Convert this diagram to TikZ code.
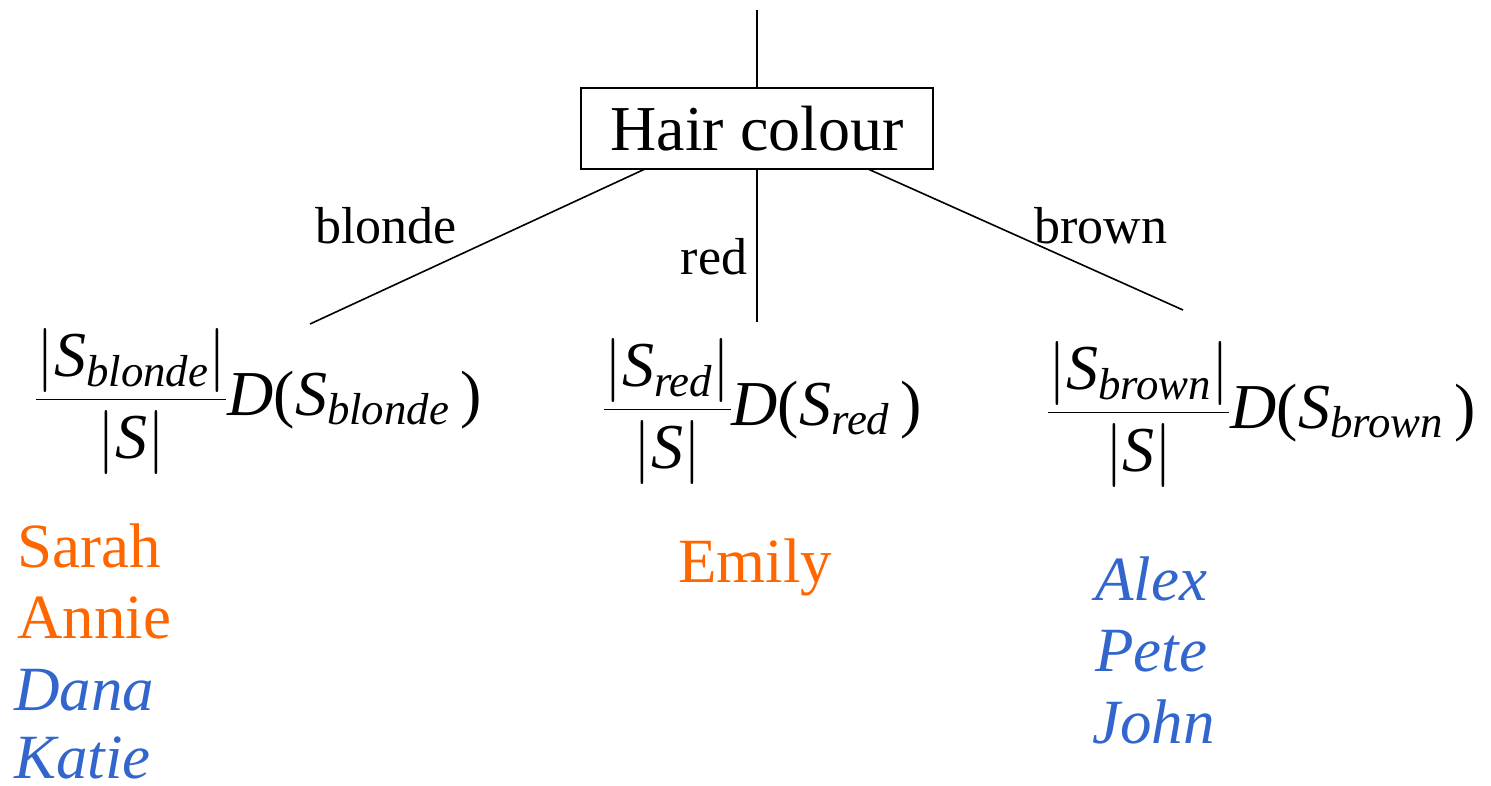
\RequirePackage{fix-cm}
\documentclass[tikz,border=0pt]{standalone}
\usepackage{amsmath}
\usepackage{fontspec}
\setmainfont{Liberation Serif}
\definecolor{nameorange}{HTML}{FF6600}
\definecolor{nameblue}{HTML}{3366CC}
\newcommand\gainfrac[1]{\fontsize{64}{70}\selectfont$\displaystyle\frac{\raisebox{-5pt}{$\left|\textit{S}_{\textit{#1}}\right|$}}{\left|\textit{S}\right|}\textit{D}\mbox{(}\textit{S}_{\textit{#1}}\,\mbox{)}$}
\tikzset{
  edge/.style={line width=1.6pt},
  attrbox/.style={draw, line width=1.7pt, minimum width=352pt, minimum height=81pt, inner sep=0pt, font=\fontsize{64}{70}\selectfont},
  edgelabel/.style={anchor=base, inner sep=0pt, font=\fontsize{52}{60}\selectfont},
  formula/.style={anchor=base west, inner sep=0pt},
  posname/.style={anchor=base west, inner sep=0pt, text=nameorange, font=\fontsize{63}{70}\selectfont},
  negname/.style={anchor=base west, inner sep=0pt, text=nameblue, font=\fontsize{63}{70}\selectfont\itshape},
}
\begin{document}
\begin{tikzpicture}[x=1pt,y=-1pt]
\useasboundingbox (0,0) rectangle (1491,785);
\node[attrbox] (hair) at (757,128.5) {Hair colour};
\coordinate (top) at (757,10);
\draw[edge] (top) -- (hair.north);
\coordinate (bstart) at (645,169);
\coordinate (rstart) at (757,169);
\coordinate (wstart) at (868,169);
\coordinate (bend) at (310,324);
\coordinate (rend) at (757,322);
\coordinate (wend) at (1183,310);
\draw[edge] (bstart) -- (bend);
\draw[edge] (rstart) -- (rend);
\draw[edge] (wstart) -- (wend);
\node[edgelabel] (lblonde) at (386,243) {blonde};
\node[edgelabel] (lred) at (714,274) {red};
\node[edgelabel] (lbrown) at (1101,243) {brown};
\node[formula] (fblonde) at (35,415) {\gainfrac{blonde}};
\node[formula] (fred) at (603,425) {\gainfrac{red}};
\node[formula] (fbrown) at (1047,428) {\gainfrac{brown}};
\node[posname] (sarah) at (17,567) {Sarah};
\node[posname] (annie) at (17,638) {Annie};
\node[negname] (dana) at (14,710) {Dana};
\node[negname] (katie) at (14,778) {Katie};
\node[posname] (emily) at (678,582) {Emily};
\node[negname] (alex) at (1095,600) {Alex};
\node[negname] (pete) at (1095,671) {Pete};
\node[negname] (john) at (1092,743) {John};
\end{tikzpicture}
\end{document}
